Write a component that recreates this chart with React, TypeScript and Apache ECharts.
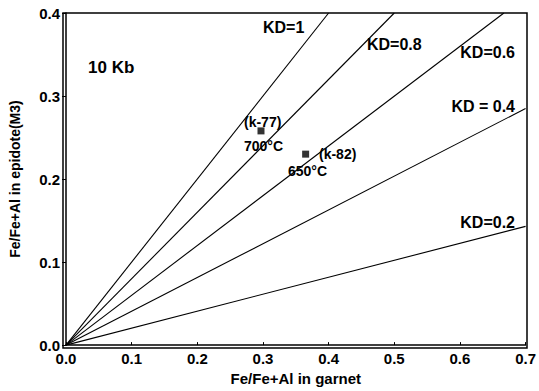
import React, { useEffect, useRef } from "react";
import * as echarts from "echarts";

const xTicks = [0, 0.1, 0.2, 0.3, 0.4, 0.5, 0.6, 0.7];
const yTicks = [0, 0.1, 0.2, 0.3, 0.4];

const kdNames = ["KD=1", "KD=0.8", "KD=0.6", "KD = 0.4", "KD=0.2"];
const kdEnds: [number, number][] = [
  [0.4, 0.4],
  [0.5, 0.4],
  [0.667, 0.4],
  [0.7, 0.285],
  [0.7, 0.143],
];

const sampleNames = ["(k-77)", "(k-82)"];
const sampleTemps = ["700°C", "650°C"];
const samplePoints: [number, number][] = [
  [0.297, 0.258],
  [0.365, 0.23],
];

const FONT = "Liberation Sans, Arial, sans-serif";

export default function App() {
  const ref = useRef<HTMLDivElement>(null);
  useEffect(() => {
    document.body.style.margin = "0";
    if (!ref.current) return;
    const chart = echarts.init(ref.current, null, { renderer: "svg" });
    const lineSeries = kdNames.map((name, i) => ({
      type: "line",
      name,
      data: [[0, 0], kdEnds[i]],
      symbol: "none",
      lineStyle: { color: "#000", width: 1.1 },
      silent: true,
    }));
    const txt = (text: string, x: number, y: number, size: number, align = "left") => ({
      type: "text",
      x,
      y,
      silent: true,
      style: {
        text,
        font: `bold ${size}px ${FONT}`,
        fill: "#000",
        align,
        verticalAlign: "middle",
      },
    });
    chart.setOption({
      animation: false,
      backgroundColor: "#fff",
      textStyle: { fontFamily: FONT },
      grid: { left: 63, right: 12, top: 13, bottom: 43 },
      xAxis: {
        type: "value",
        min: 0,
        max: 0.7,
        interval: 0.1,
        name: "Fe/Fe+Al in garnet",
        nameLocation: "middle",
        nameGap: 25,
        nameTextStyle: { color: "#000", fontSize: 15, fontWeight: "bold", fontFamily: FONT },
        axisLine: { show: true, onZero: false, lineStyle: { color: "#000", width: 1.5 } },
        axisTick: { show: true, inside: true, length: 3, lineStyle: { color: "#000" } },
        axisLabel: {
          color: "#000",
          fontSize: 15,
          fontWeight: "bold",
          fontFamily: FONT,
          margin: 6,
          formatter: (v: number) => v.toFixed(1),
        },
        splitLine: { show: false },
      },
      yAxis: {
        type: "value",
        min: 0,
        max: 0.4,
        interval: 0.1,
        name: "Fe/Fe+Al in epidote(M3)",
        nameLocation: "middle",
        nameGap: 44,
        nameTextStyle: { color: "#000", fontSize: 14, fontWeight: "bold", fontFamily: FONT },
        axisLine: { show: true, onZero: false, lineStyle: { color: "#000", width: 1.5 } },
        axisTick: { show: true, inside: false, length: 4, lineStyle: { color: "#000" } },
        axisLabel: {
          color: "#000",
          fontSize: 15,
          fontWeight: "bold",
          fontFamily: FONT,
          margin: 6,
          formatter: (v: number) => v.toFixed(1),
        },
        splitLine: { show: false },
      },
      series: [
        ...lineSeries,
        {
          type: "scatter",
          data: samplePoints,
          symbol: "rect",
          symbolSize: 7,
          itemStyle: { color: "#000" },
          silent: true,
        },
      ],
      graphic: [
        {
          type: "rect",
          shape: { x: 63, y: 13, width: 464, height: 335 },
          style: { fill: "none", stroke: "#000", lineWidth: 1.5 },
          silent: true,
        },
        txt("10 Kb", 88, 67, 17),
        txt(kdNames[0], 263, 27, 16),
        txt(kdNames[1], 367, 44, 16),
        txt(kdNames[2], 515, 52, 16, "right"),
        txt(kdNames[3], 515, 106, 16, "right"),
        txt(kdNames[4], 515, 222, 16, "right"),
        txt(sampleNames[0], 244, 122, 14),
        txt(sampleTemps[0], 244, 146, 14),
        txt(sampleNames[1], 319, 154, 14),
        txt(sampleTemps[1], 288, 171, 14),
      ],
    });
    return () => chart.dispose();
  }, []);
  return <div ref={ref} style={{ width: 539, height: 391 }} />;
}
